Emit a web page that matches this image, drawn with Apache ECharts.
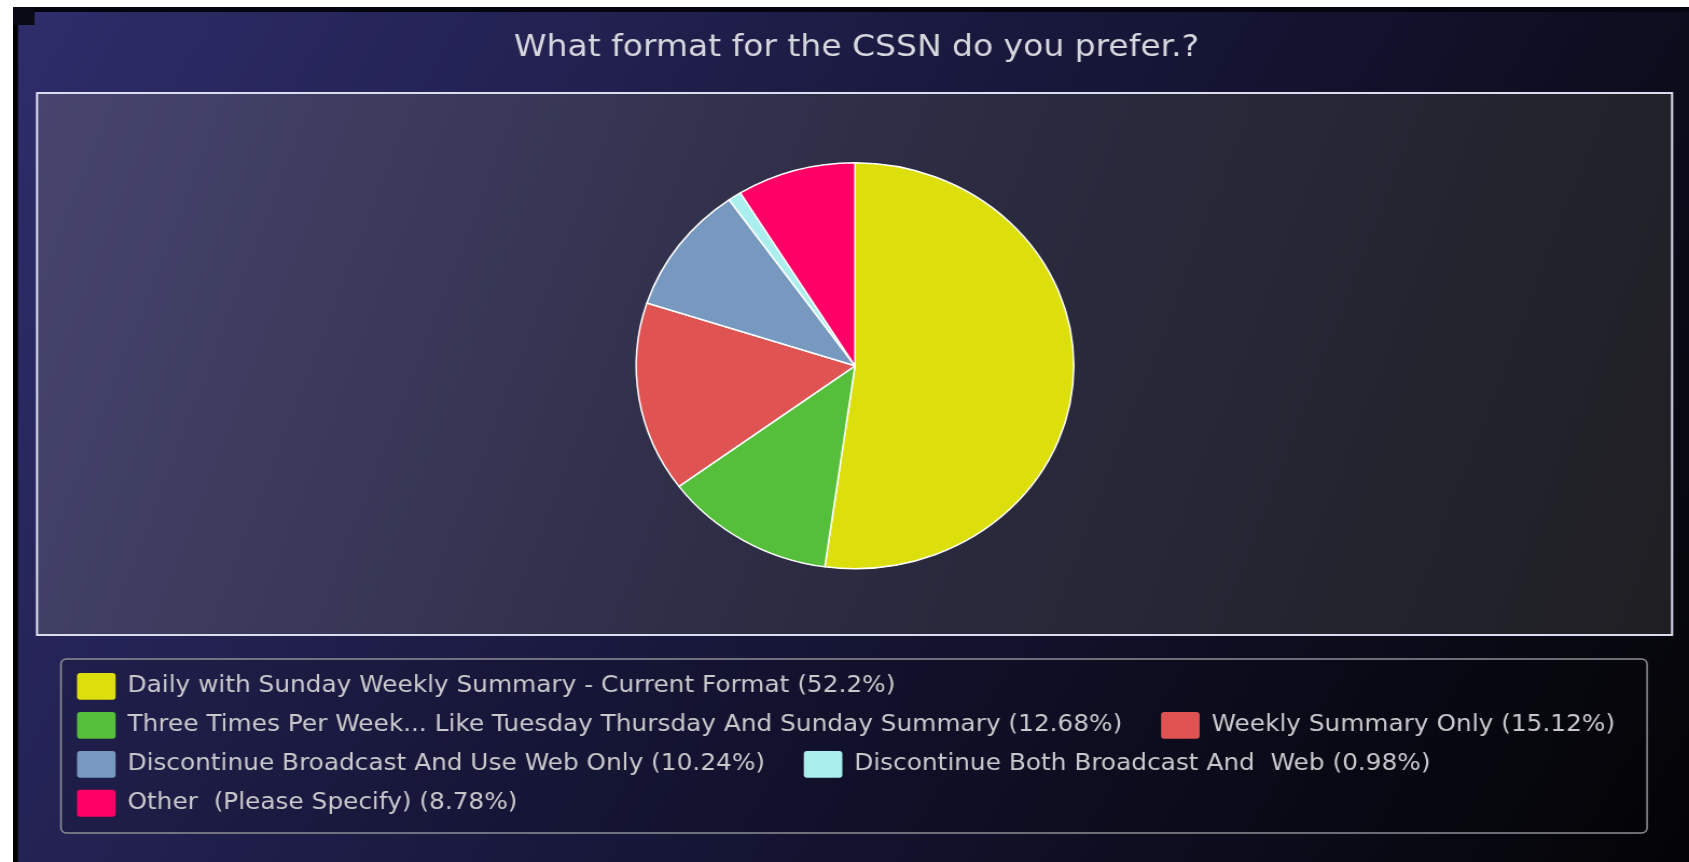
<!DOCTYPE html>
<html>
<head>
<meta charset="utf-8">
<script src="https://cdn.jsdelivr.net/npm/echarts@6/dist/echarts.min.js"></script>
<style>
html,body{margin:0;padding:0;background:#ffffff;width:1689px;height:862px;overflow:hidden}
#chart{position:absolute;left:13px;top:7px;width:1555px;height:855px;transform:scaleX(1.07781);transform-origin:0 0}
</style>
</head>
<body>
<div id="chart"></div>
<script>
const chartTitle = 'What format for the CSSN do you prefer.?';
const categories = [
  'Daily with Sunday Weekly Summary - Current Format',
  'Three Times Per Week... Like Tuesday Thursday And Sunday Summary',
  'Weekly Summary Only',
  'Discontinue Broadcast And Use Web Only',
  'Discontinue Both Broadcast And  Web',
  'Other  (Please Specify)'
];
const values = [52.2, 12.68, 15.12, 10.24, 0.98, 8.78];
const colors = ['#DDDF0D', '#55BF3B', '#DF5353', '#7798BF', '#aaeeee', '#ff0066'];

const valueByName = {};
categories.forEach((c, i) => { valueByName[c] = values[i]; });

const chart = echarts.init(document.getElementById('chart'), null, { renderer: 'canvas' });
const G = echarts.graphic;

chart.setOption({
  animation: false,
  backgroundColor: new G.LinearGradient(0, 0, 1, 1, [
    { offset: 0, color: '#2f2d6b' },
    { offset: 0.5, color: '#17173a' },
    { offset: 1, color: '#040406' }
  ]),
  title: {
    text: chartTitle,
    left: 464.8,
    top: 26,
    padding: 0,
    textStyle: { fontFamily: 'DejaVu Sans', fontSize: 30.6, fontWeight: 'normal', color: '#d6d6de' }
  },
  graphic: [
    { type: 'rect', z: 0, silent: true, shape: { x: 0, y: 0, width: 4.6, height: 855 }, style: { fill: '#000000' } },
    { type: 'rect', z: 0, silent: true, shape: { x: 0, y: 0, width: 1555, height: 5 }, style: { fill: '#050510' } },
    { type: 'rect', z: 0, silent: true, shape: { x: 0, y: 0, width: 20, height: 18 }, style: { fill: '#0a0a16' } },
    {
      type: 'rect', z: 0, silent: true,
      shape: { x: 22.3, y: 86, width: 1517, height: 542 },
      style: {
        fill: new G.LinearGradient(0, 0, 1, 1, [
          { offset: 0, color: '#47456f' },
          { offset: 0.5, color: '#2c2c43' },
          { offset: 1, color: '#1f1f23' }
        ]),
        stroke: '#dcdcf0',
        lineWidth: 2
      }
    },
    {
      type: 'rect', z: 0, silent: true,
      shape: { x: 44.5, y: 652, width: 1471.6, height: 174, r: 5 },
      style: { fill: 'rgba(0,0,0,0.12)', stroke: '#8e8e96', lineWidth: 1.5 }
    }
  ],
  legend: {
    left: 59.4,
    top: 666,
    width: 1490,
    orient: 'horizontal',
    padding: 0,
    itemWidth: 35.8,
    itemHeight: 27,
    itemGap: 12.1,
    icon: 'path://M3,0H33A3,3 0 0 1 36,3V24A3,3 0 0 1 33,27H3A3,3 0 0 1 0,24V3A3,3 0 0 1 3,0Z',
    itemStyle: { borderWidth: 0 },
    data: categories,
    formatter: (name) => '{t|' + name + ' (' + valueByName[name] + '%)}{g|\u00a0\u00a0\u00a0}',
    textStyle: {
      fontFamily: 'DejaVu Sans',
      fontSize: 23,
      color: '#c9c9cd',
      padding: [0, 0, 0, 6],
      rich: {
        t: { fontFamily: 'DejaVu Sans', fontSize: 23, color: '#c9c9cd' },
        g: { fontFamily: 'DejaVu Sans', fontSize: 25, color: 'rgba(0,0,0,0)' }
      }
    }
  },
  series: [{
    type: 'pie',
    z: 2,
    center: [781.2, 358.8],
    radius: 203,
    startAngle: 90,
    clockwise: true,
    label: { show: false },
    labelLine: { show: false },
    emphasis: { scale: false },
    itemStyle: { borderColor: '#ffffff', borderWidth: 1.5 },
    data: categories.map((c, i) => ({ name: c, value: values[i], itemStyle: { color: colors[i] } }))
  }]
});
</script>
</body>
</html>
